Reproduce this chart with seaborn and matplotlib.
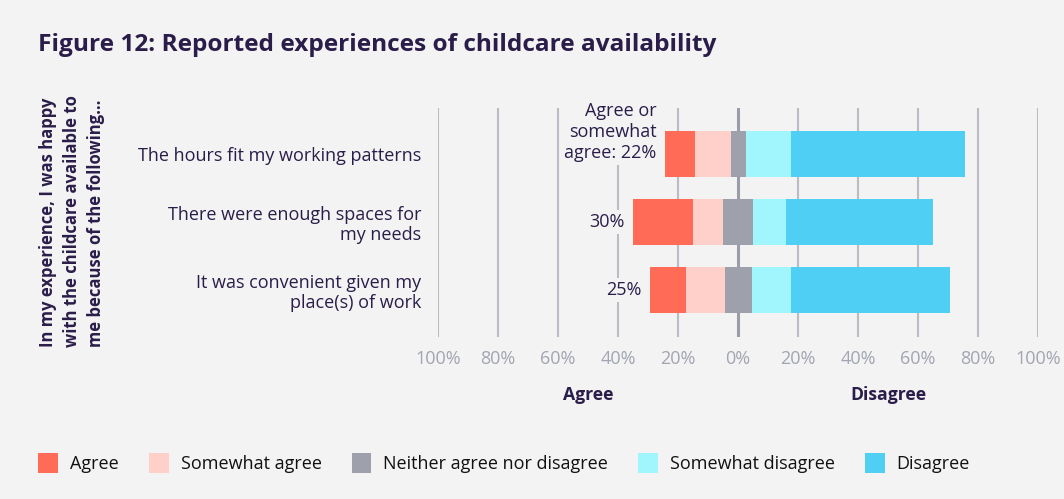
import matplotlib
matplotlib.use("Agg")
import matplotlib.pyplot as plt
import matplotlib.transforms as mtransforms
from matplotlib.patches import Patch
import seaborn as sns
import pandas as pd

# Survey statements and response shares (%)
statements = [
    "The hours fit my working patterns",
    "There were enough spaces for\nmy needs",
    "It was convenient given my\nplace(s) of work",
]
agree = [10, 20, 12]
somewhat_agree = [12, 10, 13]
neither = [5, 10, 9]
somewhat_disagree = [15, 11, 13]
disagree = [58, 49, 53]

agree_labels = ["Agree or\nsomewhat\nagree: 22%", "30%", "25%"]
tick_values = list(range(-100, 101, 20))
tick_labels = [f"{abs(v)}%" for v in tick_values]

legend_names = ["Agree", "Somewhat agree", "Neither agree nor disagree",
                "Somewhat disagree", "Disagree"]
colors = ["#ff6b57", "#ffd0c9", "#9ea1ab", "#a1f6fe", "#4fcff3"]

BG = "#f3f3f3"
INK = "#2b1d4a"
GRID = "#b9bbc5"
TICK = "#a2a5b2"

sns.set_theme(style="white")
plt.rcParams["font.family"] = ["Open Sans", "DejaVu Sans"]

fig = plt.figure(figsize=(10.64, 4.99), dpi=100, facecolor=BG)
ax = fig.add_axes([438 / 1064, 1 - 337 / 499, 600 / 1064, 229 / 499])
ax.set_facecolor(BG)

df = pd.DataFrame({
    "statement": statements,
    "agree": agree,
    "somewhat_agree": somewhat_agree,
    "neither": neither,
    "somewhat_disagree": somewhat_disagree,
    "disagree": disagree,
})
half = df["neither"] / 2
df["d_end"] = half + df["somewhat_disagree"] + df["disagree"]
df["sd_end"] = half + df["somewhat_disagree"]
df["n_pos"] = half
df["a_end"] = -(half + df["somewhat_agree"] + df["agree"])
df["sa_end"] = -(half + df["somewhat_agree"])
df["n_neg"] = -half

# Bars grow from zero; outer segments first, inner segments on top
layers = [("d_end", colors[4]), ("sd_end", colors[3]), ("n_pos", colors[2]),
          ("a_end", colors[0]), ("sa_end", colors[1]), ("n_neg", colors[2])]
for col, c in layers:
    sns.barplot(data=df, x=col, y="statement", order=statements, orient="h",
                color=c, width=0.68, saturation=1, linewidth=0, ax=ax, zorder=3)

ax.set_xlim(-100, 100)
ax.set_ylim(2.69, -0.68)
ax.set_xticks(tick_values)
ax.set_xticklabels(tick_labels, color=TICK, fontsize=13)
ax.tick_params(axis="x", length=0, pad=9)
ax.tick_params(axis="y", length=0, pad=12, labelsize=13, labelcolor=INK)
for lab in ax.get_yticklabels():
    lab.set_linespacing(1.15)
ax.set_xlabel("")
ax.set_ylabel("")
for s in ax.spines.values():
    s.set_visible(False)

for v in tick_values:
    if v == 0:
        ax.axvline(v, color="#9a9ca8", lw=2.2, zorder=1)
    else:
        ax.axvline(v, color=GRID, lw=1.5, zorder=1)

# Share of agree + somewhat agree, just left of each bar
for i, lab in enumerate(agree_labels):
    x0 = df["a_end"][i]
    off = (-8, 22) if "\n" in lab else (-8, 0)
    ax.annotate(lab, xy=(x0, i), xytext=off, textcoords="offset pixels",
                ha="right", va="center", multialignment="right",
                fontsize=13, color=INK, zorder=5, linespacing=1.2,
                bbox=dict(boxstyle="square,pad=0.15", fc=BG, ec="none"))

trans = mtransforms.blended_transform_factory(ax.transData, fig.transFigure)
ax.text(-50, 1 - 395 / 499, "Agree", transform=trans, ha="center", va="center",
        fontsize=12.7, fontweight="bold", color=INK)
ax.text(50, 1 - 395 / 499, "Disagree", transform=trans, ha="center", va="center",
        fontsize=12.7, fontweight="bold", color=INK)

fig.text(38 / 1064, 1 - 45 / 499,
         "Figure 12: Reported experiences of childcare availability",
         ha="left", va="center", fontsize=17.6, fontweight="bold", color=INK)

fig.text(72 / 1064, 1 - 221 / 499,
         "In my experience, I was happy\nwith the childcare available to\nme because of the following…",
         rotation=90, ha="center", va="center", multialignment="left",
         fontsize=12, fontweight="bold", color=INK, linespacing=1.45)

handles = [Patch(facecolor=c, edgecolor="none") for c in colors]
fig.legend(handles, legend_names, loc="center left",
           bbox_to_anchor=(22 / 1064, 1 - 463 / 499), ncol=5, frameon=False,
           fontsize=13, handlelength=1.1, handleheight=1.33, handletextpad=0.66,
           columnspacing=1.66, labelcolor="#111111")

fig.savefig("out.png", dpi=100, facecolor=BG)
